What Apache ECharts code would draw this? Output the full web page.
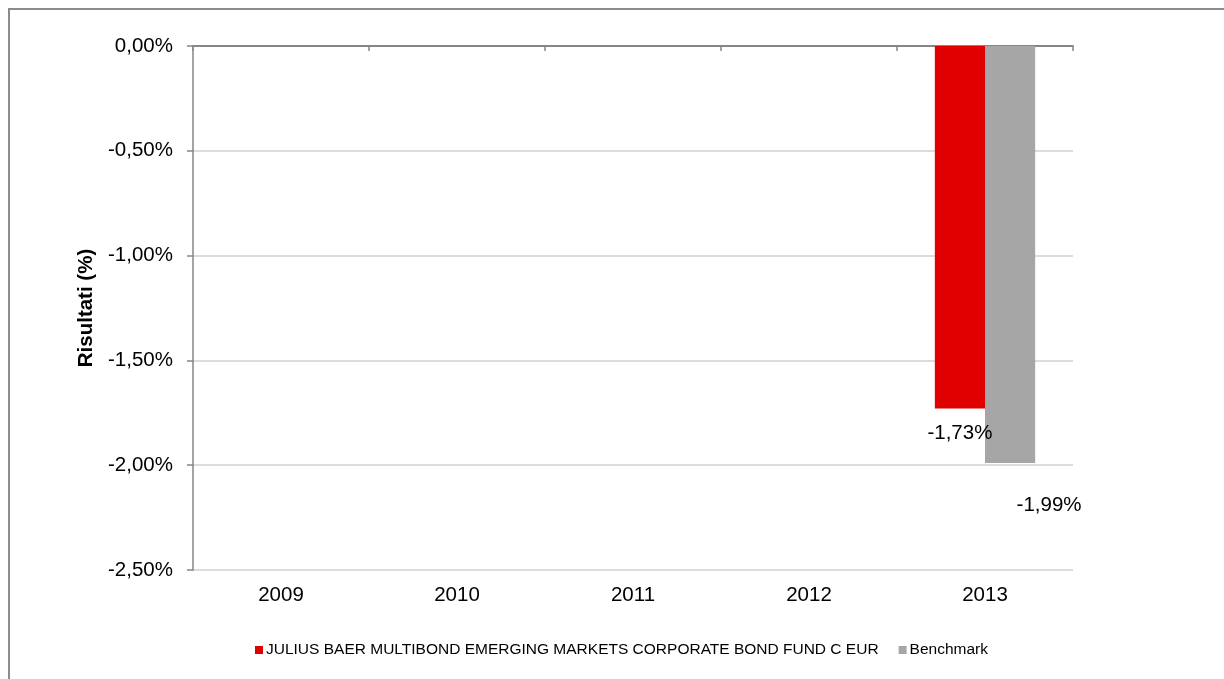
<!DOCTYPE html>
<html>
<head>
<meta charset="utf-8">
<script src="https://cdn.jsdelivr.net/npm/echarts@6/dist/echarts.min.js"></script>
<style>
html,body{margin:0;padding:0;background:#fff;}
#chart{width:1224px;height:679px;}
</style>
</head>
<body>
<div id="chart"></div>
<script>
const years = ['2009', '2010', '2011', '2012', '2013'];
const fundName = 'JULIUS BAER MULTIBOND EMERGING MARKETS CORPORATE BOND FUND C EUR';
const benchName = 'Benchmark';
const fundValues = [null, null, null, null, -1.73];
const benchValues = [null, null, null, null, -1.99];
const yMin = -2.5, yMax = 0, yStep = 0.5;

const fmt = v => v.toFixed(2).replace('.', ',') + '%';
const FONT = 'Liberation Sans, Arial, sans-serif';
const FS = 20.5;

const chart = echarts.init(document.getElementById('chart'), null, {renderer: 'canvas'});
chart.setOption({
  animation: false,
  backgroundColor: '#fff',
  textStyle: {fontFamily: FONT, color: '#000'},
  graphic: [{
    type: 'rect',
    shape: {x: 9, y: 9, width: 1400, height: 900},
    style: {fill: 'none', stroke: '#8c8c8c', lineWidth: 2},
    silent: true, z: 100
  }],
  grid: {left: 193, right: 151, top: 46, bottom: 109, containLabel: false},
  legend: {
    left: 250, top: 637,
    itemWidth: 8, itemHeight: 8, itemGap: 20,
    icon: 'rect',
    textStyle: {fontFamily: FONT, fontSize: 15.5, color: '#000', padding: [0, 0, 0, -2]},
    data: [fundName, benchName]
  },
  xAxis: [{
    type: 'category', data: years, position: 'top',
    axisLine: {onZero: false, lineStyle: {color: '#868686', width: 2}},
    axisTick: {show: true, inside: true, length: 5, lineStyle: {color: '#868686', width: 1.5}},
    axisLabel: {show: false},
    splitLine: {show: false}
  }, {
    type: 'category', data: years, position: 'bottom',
    axisLine: {show: false},
    axisTick: {show: false},
    axisLabel: {fontFamily: FONT, fontSize: FS, color: '#000', margin: 15}
  }],
  yAxis: {
    type: 'value', min: yMin, max: yMax, interval: yStep,
    name: 'Risultati (%)', nameLocation: 'middle', nameGap: 94, nameRotate: 90,
    nameTextStyle: {fontFamily: FONT, fontSize: FS, fontWeight: 'bold', color: '#000'},
    axisLine: {show: true, lineStyle: {color: '#868686', width: 1.5}},
    axisTick: {show: true, length: 6, lineStyle: {color: '#868686', width: 1.5}},
    axisLabel: {fontFamily: FONT, fontSize: FS, color: '#000', margin: 20, formatter: fmt},
    splitLine: {show: true, lineStyle: {color: '#d0d0d0', width: 1.5}}
  },
  series: [{
    name: fundName, type: 'bar', data: fundValues, xAxisIndex: 0,
    barGap: '0%', barCategoryGap: '43%',
    itemStyle: {color: '#e00000'},
    label: {show: true, position: 'bottom', offset: [0, 9], distance: 5,
      fontFamily: FONT, fontSize: FS, color: '#000',
      formatter: p => fmt(p.value)}
  }, {
    name: benchName, type: 'bar', data: benchValues, xAxisIndex: 0,
    barGap: '0%', barCategoryGap: '43%',
    itemStyle: {color: '#a6a6a6'},
    label: {show: true, position: 'bottom', offset: [39, 27], distance: 5,
      fontFamily: FONT, fontSize: FS, color: '#000',
      formatter: p => fmt(p.value)}
  }]
});
</script>
</body>
</html>
